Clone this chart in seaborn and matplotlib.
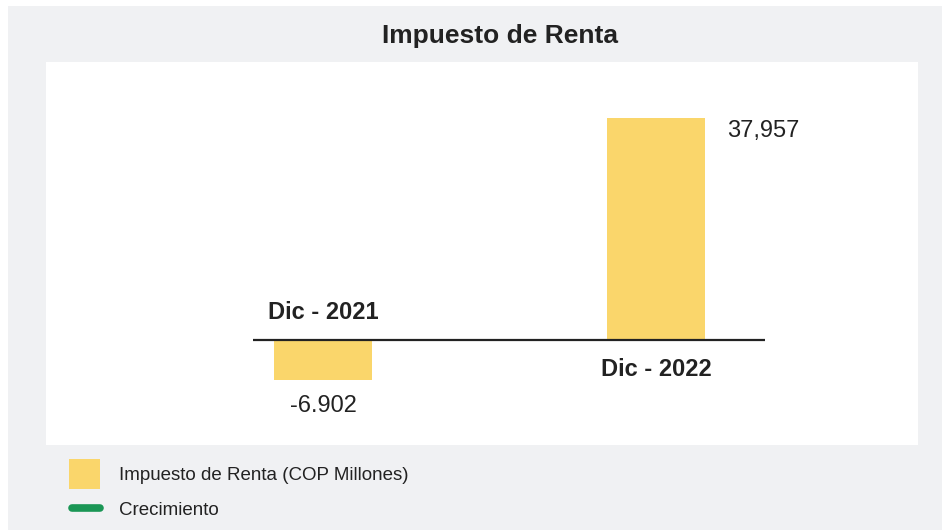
import matplotlib
matplotlib.use("Agg")
import matplotlib.pyplot as plt
import seaborn as sns
import pandas as pd
from matplotlib.patches import Rectangle, Patch
from matplotlib.lines import Line2D

categories = ["Dic - 2021", "Dic - 2022"]
values = [-6902, 37957]
value_labels = ["-6.902", "37,957"]
title = "Impuesto de Renta"
legend_labels = ["Impuesto de Renta (COP Millones)", "Crecimiento"]

BAR = "#FAD66B"
GREEN = "#1A9655"
GREY = "#F0F1F3"
TXT = "#222222"

sns.set_theme(style="white")
plt.rcParams["font.family"] = ["Liberation Sans", "DejaVu Sans"]

W, H = 942, 530
fig = plt.figure(figsize=(W / 100, H / 100), dpi=100, facecolor="white")
fig.patches.append(Rectangle((8 / W, 0), 1 - 8 / W, 1 - 6 / H, transform=fig.transFigure,
                             facecolor=GREY, edgecolor="none", zorder=-10))

ax = fig.add_axes([46 / W, 1 - 445 / H, (918 - 46) / W, (445 - 62) / H])
ax.set_facecolor("white")

df = pd.DataFrame({"cat": categories, "val": values})
sns.barplot(data=df, x="cat", y="val", color=BAR, saturation=1, width=0.294, ax=ax, edgecolor="none")

ax.set_xlim(-0.832, 1.787)
ax.set_ylim(-18034, 47575)
ax.hlines(0, -0.21, 1.327, color=TXT, lw=1.6, zorder=5)

for s in ax.spines.values():
    s.set_visible(False)
ax.set_xticks([]); ax.set_yticks([])
ax.set_xlabel(""); ax.set_ylabel("")

# category labels
for i, (c, v) in enumerate(zip(categories, values)):
    if v < 0:
        ax.annotate(c, (i, 0), xytext=(0, 19.5), textcoords="offset points", ha="center", va="center",
                    fontsize=17, fontweight="bold", color=TXT)
    else:
        ax.annotate(c, (i, 0), xytext=(0, -21.5), textcoords="offset points", ha="center", va="center",
                    fontsize=17, fontweight="bold", color=TXT)

# value labels
ax.annotate(value_labels[0], (0, values[0]), xytext=(0, -19), textcoords="offset points",
            ha="center", va="center", fontsize=17, color=TXT)
ax.annotate(value_labels[1], (1 + 0.147, values[1]), xytext=(16, -9.5), textcoords="offset points",
            ha="left", va="center", fontsize=17, color=TXT)

fig.text(500 / W, 1 - 36 / H, title, ha="center", va="center", fontsize=19, fontweight="bold", color=TXT)

handles = [Patch(facecolor=BAR, edgecolor="none"),
           Line2D([0], [0], color=GREEN, lw=5.5, solid_capstyle="round")]
fs = 13.5
leg = fig.legend(handles, legend_labels, loc="upper left", bbox_to_anchor=(69 / W, 1 - 459 / H),
                 bbox_transform=fig.transFigure, frameon=False, fontsize=fs, borderpad=0,
                 borderaxespad=0, handlelength=1.65, handleheight=2.085, labelspacing=0.27,
                 handletextpad=1.0)
for t in leg.get_texts():
    t.set_color(TXT)
for ln in leg.get_lines():
    xd = list(ln.get_xdata())
    yd = list(ln.get_ydata())
    ln.set_xdata([xd[0] + 2.5, xd[-1]])
    ln.set_ydata([yd[0] - 2.2, yd[-1] - 2.2])

fig.savefig("out.png", dpi=100, facecolor="white")
